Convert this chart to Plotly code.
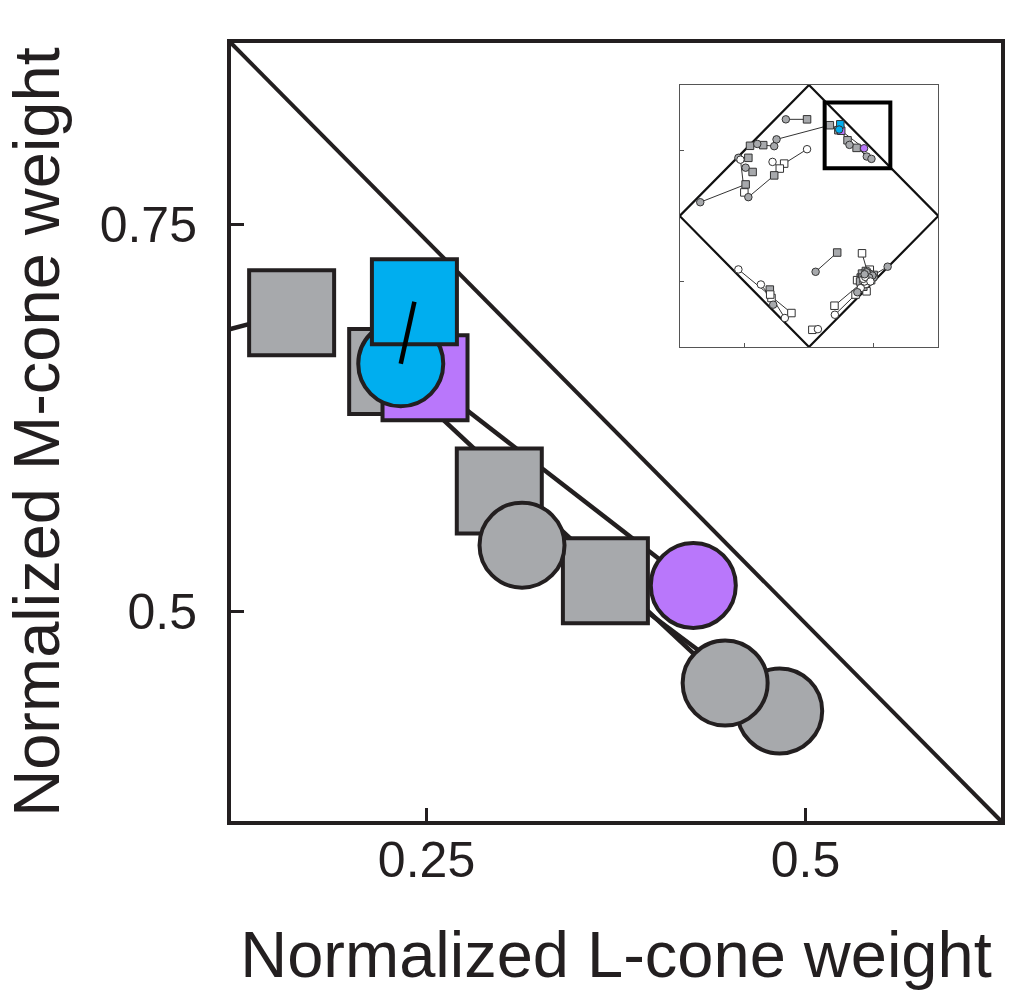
import plotly.graph_objects as go

# ---------------- data ----------------
# axis ranges of the main panel (normalized cone weights)
L_range = [0.121, 0.629]
M_range = [0.365, 0.867]
x_tickvals = [0.25, 0.5]
x_ticktext = ["0.25", "0.5"]
y_tickvals = [0.5, 0.75]
y_ticktext = ["0.5", "0.75"]

# cells shown in the main panel: square = condition 1, circle = condition 2
main_fill = ["gray", "gray", "purple", "blue", "gray", "gray"]
main_sq_L = [0.161, 0.227, 0.249, 0.242, 0.298, 0.368]
main_sq_M = [0.693, 0.655, 0.651, 0.700, 0.578, 0.520]
main_ci_L = [-0.251, 0.447, 0.426, 0.233, 0.313, 0.483]
main_ci_M = [0.585, 0.454, 0.517, 0.660, 0.543, 0.436]

# additional cells only visible in the inset (full cone space)
inset_fill = ["gray", "gray", "open", "open", "gray", "gray", "gray", "gray", "open", "gray",
              "gray", "open", "gray", "gray", "open", "gray", "open", "gray", "open", "gray",
              "open", "open", "open",
              "open", "open", "gray", "open",
              "gray", "open", "gray", "open", "gray",
              "gray", "open", "gray", "open", "gray", "open"]
inset_sq_L = [-0.015, -0.354, -0.192, -0.226, -0.269, -0.469, -0.436, -0.490, -0.500, -0.456,
              0.218, 0.410, 0.500, 0.400, 0.430, 0.450, 0.372, 0.470, 0.445, 0.420,
              0.197, 0.360, 0.026,
              -0.136, -0.290, -0.303, -0.300,
              0.430, 0.460, 0.410, 0.480, 0.440,
              0.415, 0.455, 0.425, 0.470, 0.395, 0.445]
inset_sq_M = [0.738, 0.541, 0.400, 0.362, 0.310, 0.444, 0.336, 0.241, 0.180, 0.536,
              -0.279, -0.285, -0.450, -0.470, -0.440, -0.500, -0.490, -0.430, -0.575, -0.540,
              -0.685, -0.600, -0.869,
              -0.741, -0.626, -0.562, -0.600,
              -0.460, -0.470, -0.440, -0.490, -0.420,
              -0.470, -0.450, -0.510, -0.410, -0.500, -0.480]
inset_ci_L = [-0.179, -0.269, -0.015, -0.282, -0.469, -0.546, -0.490, -0.841, -0.530, -0.400,
              0.051, 0.450, 0.608, 0.460, 0.480, 0.420, 0.440, 0.500, 0.400, 0.374,
              0.420, 0.200, 0.069,
              -0.546, -0.372, -0.277, -0.187,
              0.470, 0.430, 0.455, 0.450, 0.490,
              0.445, 0.420, 0.465, 0.435, 0.430, 0.475]
inset_ci_M = [0.738, 0.533, 0.510, 0.413, 0.144, 0.444, 0.369, 0.105, 0.430, 0.550,
              -0.426, -0.420, -0.387, -0.480, -0.450, -0.500, -0.520, -0.470, -0.550, -0.582,
              -0.500, -0.754, -0.864,
              -0.408, -0.523, -0.677, -0.779,
              -0.440, -0.500, -0.460, -0.430, -0.455,
              -0.430, -0.480, -0.470, -0.465, -0.445, -0.500]

# diamond |L| + |M| = 1 for the inset
diamond_L = [-1, 0, 1, 0, -1]
diamond_M = [0, 1, 0, -1, 0]

# ---------------- styles ----------------
fill_colors = {"gray": "#A7A9AC", "purple": "#B977FB", "blue": "#00AEEF", "open": "#FFFFFF"}
ink = "#231F20"
BIG = 85
FONT = "Liberation Sans, Arial, Helvetica, sans-serif"

fig = go.Figure()


def pairs_xy(xa, ya, xb, yb, idx):
    xs, ys = [], []
    for i in idx:
        xs += [xa[i], xb[i], None]
        ys += [ya[i], yb[i], None]
    return xs, ys


# ---- main panel: connecting lines (behind markers) ----
idx_lines = [i for i, f in enumerate(main_fill) if f != "blue"]
lx, ly = pairs_xy(main_sq_L, main_sq_M, main_ci_L, main_ci_M, idx_lines)
fig.add_trace(go.Scatter(x=lx, y=ly, mode="lines", line=dict(color=ink, width=4.5),
                         hoverinfo="skip", xaxis="x", yaxis="y"))


def add_markers(idx, xs, ys, symbol, size, lw):
    if not idx:
        return
    fig.add_trace(go.Scatter(
        x=[xs[i] for i in idx], y=[ys[i] for i in idx], mode="markers",
        marker=dict(symbol=symbol, size=size,
                    color=[fill_colors[main_fill[i]] for i in idx],
                    line=dict(color=ink, width=lw)),
        xaxis="x", yaxis="y", hoverinfo="skip"))


gray_idx = [i for i, f in enumerate(main_fill) if f == "gray"]
purple_idx = [i for i, f in enumerate(main_fill) if f == "purple"]
blue_idx = [i for i, f in enumerate(main_fill) if f == "blue"]

# squares (gray then purple), circles (gray sorted so right-most drawn first, then purple)
add_markers(gray_idx, main_sq_L, main_sq_M, "square", BIG, 4)
add_markers(purple_idx, main_sq_L, main_sq_M, "square", BIG, 4)
gray_ci_order = sorted(gray_idx, key=lambda i: -main_ci_L[i])
add_markers(gray_ci_order, main_ci_L, main_ci_M, "circle", BIG, 4)
add_markers(purple_idx, main_ci_L, main_ci_M, "circle", BIG, 4)
add_markers(blue_idx, main_ci_L, main_ci_M, "circle", BIG, 4)
add_markers(blue_idx, main_sq_L, main_sq_M, "square", BIG, 4)
bx, by = pairs_xy(main_sq_L, main_sq_M, main_ci_L, main_ci_M, blue_idx)
fig.add_trace(go.Scatter(x=bx, y=by, mode="lines", line=dict(color="#000000", width=4.5),
                         hoverinfo="skip", xaxis="x", yaxis="y"))

# ---- inset ----
fig.add_trace(go.Scatter(x=diamond_L, y=diamond_M, mode="lines",
                         line=dict(color="#111111", width=2.2), hoverinfo="skip",
                         xaxis="x2", yaxis="y2"))
all_fill = inset_fill + main_fill
all_sq_L = inset_sq_L + main_sq_L
all_sq_M = inset_sq_M + main_sq_M
all_ci_L = inset_ci_L + main_ci_L
all_ci_M = inset_ci_M + main_ci_M
ix, iy = pairs_xy(all_sq_L, all_sq_M, all_ci_L, all_ci_M, range(len(all_fill)))
fig.add_trace(go.Scatter(x=ix, y=iy, mode="lines", line=dict(color="#333333", width=1),
                         hoverinfo="skip", xaxis="x2", yaxis="y2"))
for sym, xs, ys in (("square", all_sq_L, all_sq_M), ("circle", all_ci_L, all_ci_M)):
    fig.add_trace(go.Scatter(
        x=xs, y=ys, mode="markers",
        marker=dict(symbol=sym, size=7.5, color=[fill_colors[f] for f in all_fill],
                    line=dict(color="#333333", width=1)),
        xaxis="x2", yaxis="y2", hoverinfo="skip"))

# ---------------- layout ----------------
shapes = [
    # unity line L + M = 1 across the main panel
    dict(type="line", xref="x domain", yref="y domain", x0=0, y0=1, x1=1, y1=0,
         line=dict(color=ink, width=4), layer="below"),
    # box in the inset marking the main panel's region
    dict(type="rect", xref="x2", yref="y2", x0=L_range[0], x1=L_range[1],
         y0=M_range[0], y1=M_range[1], line=dict(color="#000000", width=4)),
]

axis_common = dict(showgrid=False, zeroline=False, showline=True, mirror=True,
                   linecolor=ink, linewidth=4, ticks="inside", ticklen=13, tickwidth=3,
                   tickcolor=ink, tickfont=dict(size=50, color=ink, family=FONT))

fig.update_layout(
    width=1010, height=991, autosize=False,
    margin=dict(l=231, r=5, t=43, b=170, pad=0),
    paper_bgcolor="white", plot_bgcolor="white", showlegend=False,
    font=dict(family=FONT, color=ink),
    shapes=shapes,
    xaxis=dict(axis_common, range=L_range, tickvals=x_tickvals, ticktext=x_ticktext,
               ticklabelstandoff=-8,
               title=dict(text="Normalized L-cone weight", standoff=50,
                          font=dict(size=65, color=ink, family=FONT)),
               domain=[0, 1], anchor="y"),
    yaxis=dict(axis_common, range=M_range, tickvals=y_tickvals, ticktext=y_ticktext,
               ticklabelstandoff=20,
               title=dict(text="Normalized M-cone weight", standoff=24,
                          font=dict(size=65, color=ink, family=FONT)),
               domain=[0, 1], anchor="x"),
    xaxis2=dict(domain=[0.5827, 0.9186], anchor="y2", range=[-1, 1],
                tickvals=[-0.5, 0.5], showticklabels=False, ticks="inside", ticklen=4,
                tickwidth=1, tickcolor="#555555", showline=True, mirror=True,
                linewidth=1.2, linecolor="#555555", showgrid=False, zeroline=False),
    yaxis2=dict(domain=[0.6093, 0.946], anchor="x2", range=[-1, 1],
                tickvals=[-0.5, 0.5], showticklabels=False, ticks="inside", ticklen=4,
                tickwidth=1, tickcolor="#555555", showline=True, mirror=True,
                linewidth=1.2, linecolor="#555555", showgrid=False, zeroline=False),
)

fig.write_html("out.html", config={"displayModeBar": False},
               post_script="document.body.style.margin='0';")
